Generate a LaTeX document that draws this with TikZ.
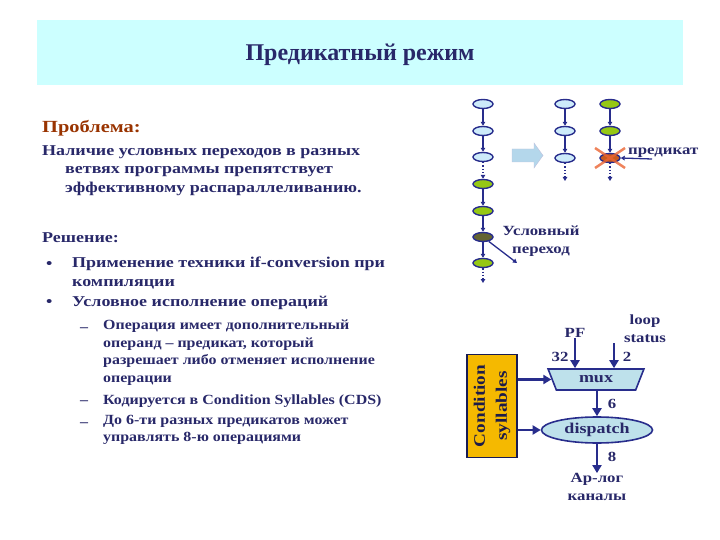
\documentclass[tikz,border=0pt]{standalone}
\usepackage{fontspec}
\setmainfont{Liberation Serif}
\newfontfamily\slidefont{Liberation Serif}[FakeStretch=1.2]
\newfontfamily\subfont{Liberation Serif}[FakeStretch=1.14]
\usetikzlibrary{arrows.meta, positioning, shapes.geometric, calc}

\definecolor{ink}{RGB}{40,40,105}
\definecolor{problem}{RGB}{153,51,0}
\definecolor{band}{RGB}{204,255,255}
\definecolor{navy}{RGB}{40,45,140}
\definecolor{opblue}{RGB}{205,235,250}
\definecolor{opgreen}{RGB}{150,200,20}
\definecolor{opjump}{RGB}{100,100,50}
\definecolor{opkill}{RGB}{200,90,30}
\definecolor{killx}{RGB}{235,100,50}
\definecolor{cdsfill}{RGB}{245,185,0}
\definecolor{unitfill}{RGB}{190,225,235}
\definecolor{bigarrow}{RGB}{180,215,235}

\tikzset{
  op/.style={ellipse, draw=navy, line width=1.4pt, minimum width=20pt, minimum height=9pt, inner sep=0pt},
  flow/.style={navy, line width=1.3pt, -{Triangle[length=4pt,width=4.5pt]}},
  dotflow/.style={flow, dotted},
  bus/.style={navy, line width=2.6pt, -{Triangle[length=8pt,width=9pt]}},
  title/.style={font=\bfseries\fontsize{24}{28}\selectfont, text=ink, inner sep=0pt},
  head/.style={font=\slidefont\bfseries\fontsize{15}{18}\selectfont, text=ink, inner sep=0pt},
  body/.style={font=\slidefont\bfseries\fontsize{15}{18.5}\selectfont, text=ink, inner sep=0pt, align=left},
  sub/.style={font=\subfont\bfseries\fontsize{14}{17.5}\selectfont, text=ink, inner sep=0pt, align=left},
  lbl/.style={font=\slidefont\bfseries\fontsize{14}{18}\selectfont, text=ink, inner sep=0pt, align=center},
  unit/.style={draw=navy, line width=1.6pt, fill=unitfill, font=\slidefont\bfseries\fontsize{15}{18}\selectfont, text=ink, inner sep=0pt},
}

\begin{document}
\begin{tikzpicture}[x=1pt, y=-1pt]
\useasboundingbox (0,0) rectangle (720,540);

% Title band
\fill[band] (37,20) rectangle (683,85);
\node[title] (title) at (360,55) {Предикатный режим};

% Problem
\node[head, font=\slidefont\bfseries\fontsize{17}{20}\selectfont, text=problem, anchor=base west] (prob) at (42,133) {Проблема:};
\node[body, anchor=north west] (probtext) at (42,145) {Наличие условных переходов в разных\\\hspace*{23pt}ветвях программы препятствует\\\hspace*{23pt}эффективному распараллеливанию.};

% Solution
\node[head, anchor=base west] (sol) at (42,242) {Решение:};
\node[body, anchor=base west] (dot1) at (46,268) {•};
\node[body, anchor=north west] (item1) at (72,257) {Применение техники if-conversion при\\компиляции};
\node[body, anchor=base west] (dot2) at (46,306) {•};
\node[body, anchor=base west] (item2) at (72,306) {Условное исполнение операций};
\node[sub, anchor=base west] (dash1) at (80,331) {–};
\node[sub, anchor=north west] (sub1) at (103,320) {Операция имеет дополнительный\\операнд – предикат, который\\разрешает либо отменяет исполнение\\операции};
\node[sub, anchor=base west] (dash2) at (80,404) {–};
\node[sub, anchor=base west] (sub2) at (103,404) {Кодируется в Condition Syllables (CDS)};
\node[sub, anchor=base west] (dash3) at (80,426) {–};
\node[sub, anchor=north west] (sub3) at (103,415) {До 6-ти разных предикатов может\\управлять 8-ю операциями};

% Code before if-conversion
\foreach \n/\yy/\c in {1/104/opblue, 2/131/opblue, 3/157/opblue, 4/184/opgreen, 5/211/opgreen, 6/237/opjump, 7/263/opgreen}
  \node[op, fill=\c] (a\n) at (483,\yy) {};
\foreach \i/\j in {1/2, 2/3, 4/5, 5/6, 6/7}
  \draw[flow] (a\i) -- (a\j);
\draw[dotflow] (a3) -- (a4);
\coordinate (aend) at (483,283);
\draw[dotflow] (a7) -- (aend);
\coordinate (jump) at (517,263);
\draw[flow] (a6) -- (jump);
\node[lbl] (jumplbl) at (541,241) {Условный\\переход};

% Block arrow
\filldraw[fill=bigarrow, draw=navy!30] (512,149) -- (534,149) -- (534,143) -- (543,155.5) -- (534,168) -- (534,162) -- (512,162) -- cycle;

% Code after if-conversion
\foreach \n/\yy in {1/104, 2/131, 3/158}
  \node[op, fill=opblue] (b\n) at (565,\yy) {};
\foreach \n/\yy/\c in {1/104/opgreen, 2/131/opgreen, 3/158/opkill}
  \node[op, fill=\c] (c\n) at (610,\yy) {};
\draw[flow] (b1) -- (b2);
\draw[flow] (b2) -- (b3);
\draw[flow] (c1) -- (c2);
\draw[flow] (c2) -- (c3);
\coordinate (bend) at (565,181);
\coordinate (cend) at (610,181);
\draw[dotflow] (b3) -- (bend);
\draw[dotflow] (c3) -- (cend);
\draw[killx, line width=2.5pt, opacity=0.8] ($(c3)+(-15,-10)$) -- ($(c3)+(15,10)$) ($(c3)+(-15,10)$) -- ($(c3)+(15,-10)$);
\node[lbl, anchor=base west] (pred) at (628,155) {предикат};
\coordinate (predtail) at (652,159);
\draw[flow] (predtail) -- (c3.east);

% Predicate hardware
\node[draw=navy!60!black, line width=1.2pt, fill=cdsfill, rotate=90, minimum width=103pt, minimum height=50pt, align=center, inner sep=0pt, font=\slidefont\bfseries\fontsize{16}{22}\selectfont, text=ink!70!black] (cds) at (492,406) {Condition\\syllables};
\node[unit, trapezium, shape border rotate=180, trapezium angle=64, trapezium stretches=true, minimum width=96pt, minimum height=21pt] (mux) at (596,379.5) {mux};
\node[unit, ellipse, minimum width=111pt, minimum height=26pt] (disp) at (597,430) {dispatch};
\node[lbl] (pf) at (575,333) {PF};
\node[lbl] (loop) at (645,329) {loop\\status};
\coordinate (loopin) at (614,343);
\node[lbl] (w32) at (560,357) {32};
\node[lbl] (w2) at (627,357) {2};
\node[lbl] (w6) at (612,404) {6};
\node[lbl] (w8) at (612,457) {8};
\node[lbl] (out) at (597,487) {Ар-лог\\каналы};
\draw[bus] (pf.south) -- (pf.south |- mux.north);
\draw[bus] (loopin) -- (loopin |- mux.north);
\draw[bus] (cds.south |- mux.west) -- (mux.west);
\draw[bus] (cds.south |- disp.west) -- (disp.west);
\draw[bus] (disp.north |- mux.south) -- (disp.north);
\draw[bus] (disp.south) -- (out.north);
\end{tikzpicture}
\end{document}
